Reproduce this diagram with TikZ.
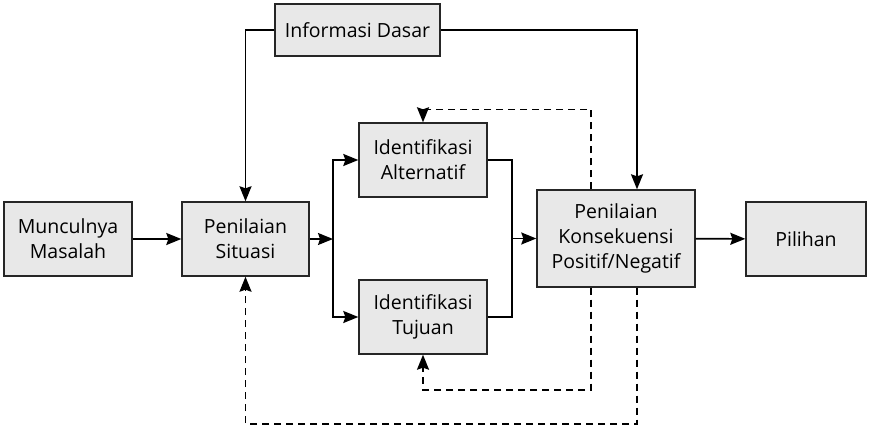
\documentclass[tikz,border=0pt]{standalone}
\usepackage{fontspec}
\setmainfont{Open Sans}
\usetikzlibrary{arrows.meta}
\tikzset{
  blok/.style={draw=black!85, line width=1.4pt, fill=black!9, align=center,
    inner sep=0pt, font=\fontsize{19.5}{25}\selectfont},
  panah/.style={line width=1.6pt, -{Stealth[length=15pt,width=12pt,inset=2pt]}},
  garis/.style={line width=1.6pt},
  balik/.style={line width=1.6pt, dash pattern=on 7pt off 5pt,
    -{Stealth[length=15pt,width=12pt,inset=2pt]}}
}
\begin{document}
\begin{tikzpicture}[x=1pt,y=-1pt]
  \useasboundingbox (0,0) rectangle (869,428);
  % kotak
  \node [blok, minimum width=165pt, minimum height=52pt] (info) at (357.5,30) {Informasi Dasar};
  \node [blok, minimum width=128pt, minimum height=74pt] (muncul) at (68,239) {Munculnya\\Masalah};
  \node [blok, minimum width=127pt, minimum height=74pt] (situasi) at (245.5,239) {Penilaian\\Situasi};
  \node [blok, minimum width=128pt, minimum height=74pt] (alt) at (423,160) {Identifikasi\\Alternatif};
  \node [blok, minimum width=128pt, minimum height=74pt] (tujuan) at (423,317) {Identifikasi\\Tujuan};
  \node [blok, minimum width=158pt, minimum height=97pt] (konsek) at (616,238.5) {Penilaian\\Konsekuensi\\Positif/Negatif};
  \node [blok, minimum width=120pt, minimum height=74pt] (pilihan) at (806,239) {Pilihan};
  \coordinate (cabang) at (333,239);
  \coordinate (gabung) at (512,238.5);
  % alur utama
  \draw [panah] (muncul) -- (situasi);
  \draw [panah] (situasi) -- (cabang);
  \draw [panah] (cabang) |- (alt);
  \draw [panah] (cabang) |- (tujuan);
  \draw [garis] (alt) -| (gabung);
  \draw [garis] (tujuan) -| (gabung);
  \draw [panah] (gabung) -- (konsek);
  \draw [panah] (konsek) -- (pilihan);
  \draw [panah] (info) -| (situasi);
  \draw [panah] (info) -| ([xshift=21pt]konsek.north);
  % umpan balik
  \draw [balik] ([xshift=-25pt]konsek.north) -- ++(0,-80) -| (alt);
  \draw [balik] ([xshift=-25pt]konsek.south) -- ++(0,102) -| (tujuan);
  \draw [balik] ([xshift=21pt]konsek.south) -- ++(0,136) -| (situasi);
\end{tikzpicture}
\end{document}
